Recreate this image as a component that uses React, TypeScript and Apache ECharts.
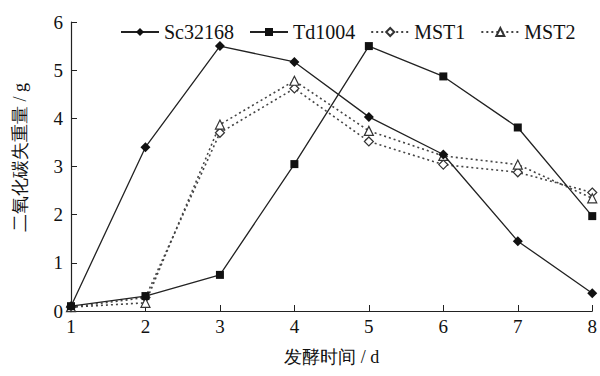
import React, { useEffect, useRef } from "react";
import * as echarts from "echarts";

const days = [1, 2, 3, 4, 5, 6, 7, 8];
const sc32168 = [0.1, 3.4, 5.5, 5.17, 4.03, 3.25, 1.45, 0.37];
const td1004 = [0.1, 0.31, 0.75, 3.05, 5.5, 4.87, 3.81, 1.97];
const mst1 = [0.08, 0.28, 3.7, 4.62, 3.52, 3.04, 2.88, 2.46];
const mst2 = [0.08, 0.17, 3.87, 4.78, 3.74, 3.22, 3.04, 2.34];
const yTicks = [0, 1, 2, 3, 4, 5, 6];

const FONT = "Liberation Serif";

export default function App() {
  const ref = useRef<HTMLDivElement>(null);
  useEffect(() => {
    if (!ref.current) return;
    const chart = echarts.init(ref.current, undefined, { renderer: "svg" });
    const pair = (arr: number[]) => days.map((d, i) => [d, arr[i]]);
    chart.setOption({
      animation: false,
      backgroundColor: "#ffffff",
      textStyle: { fontFamily: FONT },
      grid: { left: 71, right: 5, top: 22, bottom: 65 },
      legend: {
        left: 115,
        top: 17,
        itemWidth: 38,
        itemHeight: 10,
        itemGap: 15,
        textStyle: { fontFamily: FONT, fontSize: 20, color: "#111" },
        data: ["Sc32168", "Td1004", "MST1", "MST2"],
      },
      xAxis: {
        type: "value",
        min: 1,
        max: 8,
        interval: 1,
        name: "发酵时间 / d",
        nameLocation: "middle",
        nameGap: 37,
        nameTextStyle: { fontFamily: FONT, fontSize: 18, color: "#111" },
        axisLine: { show: true, lineStyle: { color: "#222", width: 1.2 } },
        axisTick: { show: true, inside: true, length: 6, lineStyle: { color: "#222" } },
        axisLabel: { fontFamily: FONT, fontSize: 19, color: "#111", margin: 6 },
        splitLine: { show: false },
      },
      yAxis: {
        type: "value",
        min: 0,
        max: 6,
        interval: 1,
        name: "二氧化碳失重量 / g",
        nameLocation: "middle",
        nameGap: 42,
        nameRotate: 90,
        nameTextStyle: { fontFamily: FONT, fontSize: 18, color: "#111", padding: [0, 0, 0, 18] },
        axisLine: { show: true, lineStyle: { color: "#222", width: 1.2 } },
        axisTick: { show: true, inside: true, length: 6, lineStyle: { color: "#222" } },
        axisLabel: {
          fontFamily: FONT,
          fontSize: 19,
          color: "#111",
          margin: 8,
          formatter: (v: number) => (yTicks.includes(v) ? String(v) : ""),
        },
        splitLine: { show: false },
      },
      series: [
        {
          name: "Sc32168",
          type: "line",
          data: pair(sc32168),
          symbol: "diamond",
          symbolSize: 10,
          itemStyle: { color: "#111" },
          lineStyle: { color: "#222", width: 1.3, type: "solid" },
          z: 4,
        },
        {
          name: "Td1004",
          type: "line",
          data: pair(td1004),
          symbol: "rect",
          symbolSize: 8,
          itemStyle: { color: "#111" },
          lineStyle: { color: "#222", width: 1.3, type: "solid" },
          z: 4,
        },
        {
          name: "MST1",
          type: "line",
          data: pair(mst1),
          symbol: "diamond",
          symbolSize: 9,
          itemStyle: { color: "#ffffff", borderColor: "#333", borderWidth: 1.2 },
          lineStyle: { color: "#444", width: 1.6, type: [2, 3] },
          z: 3,
        },
        {
          name: "MST2",
          type: "line",
          data: pair(mst2),
          symbol: "triangle",
          symbolSize: 9,
          itemStyle: { color: "#ffffff", borderColor: "#333", borderWidth: 1.2 },
          lineStyle: { color: "#444", width: 1.6, type: [2, 3] },
          z: 3,
        },
      ],
    });
    return () => chart.dispose();
  }, []);
  return <div ref={ref} style={{ width: 600, height: 376, position: "absolute", left: 0, top: 0 }} />;
}
